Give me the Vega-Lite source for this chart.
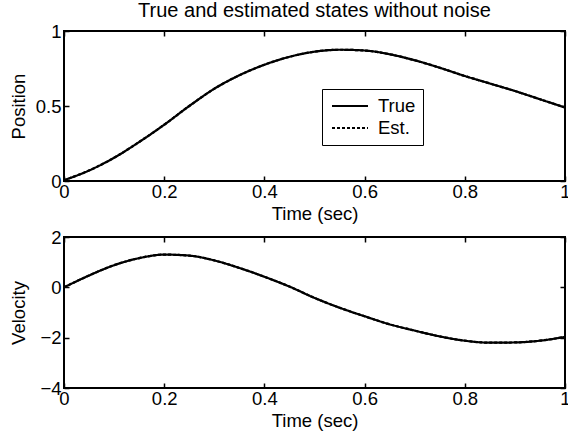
{
  "$schema": "https://vega.github.io/schema/vega-lite/v6.json",
  "background": "white",
  "padding": {"left": 8, "top": 0, "right": 0, "bottom": 0},
  "spacing": 3,
  "datasets": {
    "d": [
      {"t": 0.0, "p": 0.005, "v": 0.0, "s": "True"},
      {"t": 0.05, "p": 0.07, "v": 0.47, "s": "True"},
      {"t": 0.1, "p": 0.155, "v": 0.88, "s": "True"},
      {"t": 0.15, "p": 0.26, "v": 1.16, "s": "True"},
      {"t": 0.2, "p": 0.375, "v": 1.3, "s": "True"},
      {"t": 0.25, "p": 0.5, "v": 1.26, "s": "True"},
      {"t": 0.3, "p": 0.615, "v": 1.07, "s": "True"},
      {"t": 0.35, "p": 0.705, "v": 0.77, "s": "True"},
      {"t": 0.4, "p": 0.775, "v": 0.42, "s": "True"},
      {"t": 0.45, "p": 0.828, "v": 0.03, "s": "True"},
      {"t": 0.5, "p": 0.862, "v": -0.42, "s": "True"},
      {"t": 0.55, "p": 0.875, "v": -0.81, "s": "True"},
      {"t": 0.6, "p": 0.87, "v": -1.15, "s": "True"},
      {"t": 0.65, "p": 0.845, "v": -1.47, "s": "True"},
      {"t": 0.7, "p": 0.805, "v": -1.72, "s": "True"},
      {"t": 0.75, "p": 0.755, "v": -1.95, "s": "True"},
      {"t": 0.8, "p": 0.7, "v": -2.12, "s": "True"},
      {"t": 0.85, "p": 0.65, "v": -2.2, "s": "True"},
      {"t": 0.9, "p": 0.6, "v": -2.19, "s": "True"},
      {"t": 0.95, "p": 0.545, "v": -2.12, "s": "True"},
      {"t": 1.0, "p": 0.49, "v": -1.97, "s": "True"},
      {"t": 0.0, "p": 0.005, "v": 0.0, "s": "Est."},
      {"t": 0.05, "p": 0.07, "v": 0.47, "s": "Est."},
      {"t": 0.1, "p": 0.155, "v": 0.88, "s": "Est."},
      {"t": 0.15, "p": 0.26, "v": 1.16, "s": "Est."},
      {"t": 0.2, "p": 0.375, "v": 1.3, "s": "Est."},
      {"t": 0.25, "p": 0.5, "v": 1.26, "s": "Est."},
      {"t": 0.3, "p": 0.615, "v": 1.07, "s": "Est."},
      {"t": 0.35, "p": 0.705, "v": 0.77, "s": "Est."},
      {"t": 0.4, "p": 0.775, "v": 0.42, "s": "Est."},
      {"t": 0.45, "p": 0.828, "v": 0.03, "s": "Est."},
      {"t": 0.5, "p": 0.862, "v": -0.42, "s": "Est."},
      {"t": 0.55, "p": 0.875, "v": -0.81, "s": "Est."},
      {"t": 0.6, "p": 0.87, "v": -1.15, "s": "Est."},
      {"t": 0.65, "p": 0.845, "v": -1.47, "s": "Est."},
      {"t": 0.7, "p": 0.805, "v": -1.72, "s": "Est."},
      {"t": 0.75, "p": 0.755, "v": -1.95, "s": "Est."},
      {"t": 0.8, "p": 0.7, "v": -2.12, "s": "Est."},
      {"t": 0.85, "p": 0.65, "v": -2.2, "s": "Est."},
      {"t": 0.9, "p": 0.6, "v": -2.19, "s": "Est."},
      {"t": 0.95, "p": 0.545, "v": -2.12, "s": "Est."},
      {"t": 1.0, "p": 0.49, "v": -1.97, "s": "Est."}
    ]
  },
  "data": {"name": "d"},
  "config": {
    "font": "Liberation Sans",
    "view": {"stroke": "black", "strokeWidth": 2},
    "axis": {
      "labelFont": "Liberation Sans", "labelFontSize": 18.5, "labelColor": "black",
      "titleFont": "Liberation Sans", "titleFontSize": 18.5, "titleFontWeight": "normal", "titleColor": "black",
      "grid": false, "domain": false, "tickColor": "black", "tickWidth": 1.5, "tickSize": -5,
      "labelFlush": false, "labelOverlap": false
    }
  },
  "resolve": {"scale": {"strokeDash": "independent"}},
  "vconcat": [
    {
      "width": 501, "height": 150,
      "title": {"text": "True and estimated states without noise", "frame": "group", "fontSize": 20, "fontWeight": "normal", "font": "Liberation Sans", "color": "black", "offset": 1},
      "layer": [
        {
          "mark": {"type": "line", "color": "black", "strokeWidth": 2.2, "interpolate": "monotone"},
          "encoding": {
            "x": {"field": "t", "type": "quantitative", "scale": {"domain": [0, 1], "nice": false},
                  "axis": {"title": "Time (sec)", "values": [0, 0.2, 0.4, 0.6, 0.8, 1], "format": "~g", "labelPadding": 6, "titlePadding": 4}},
            "y": {"field": "p", "type": "quantitative", "scale": {"domain": [0, 1], "nice": false},
                  "axis": {"title": "Position", "values": [0, 0.5, 1], "format": "~g", "labelPadding": 8, "titlePadding": 7}},
            "strokeDash": {"field": "s", "type": "nominal", "sort": ["True", "Est."],
                  "scale": {"domain": ["True", "Est."], "range": [[1, 0], [3, 2]]},
                  "legend": {"title": null, "orient": "none", "legendX": 258, "legendY": 58,
                             "symbolType": "M-2,0H2", "symbolSize": 324, "symbolStrokeWidth": 1.8, "symbolStrokeColor": "black", "symbolFillColor": "transparent",
                             "symbolOffset": 11, "labelOffset": 18,
                             "labelFontSize": 18.5, "labelFont": "Liberation Sans", "labelColor": "black",
                             "strokeColor": "black", "fillColor": "white", "padding": 7, "rowPadding": 2, "labelLimit": 300}}
          }
        },
        {
          "mark": {"type": "line", "opacity": 0},
          "encoding": {
            "x": {"field": "t", "type": "quantitative", "axis": {"orient": "top", "labels": false, "title": null, "values": [0, 0.2, 0.4, 0.6, 0.8, 1]}},
            "y": {"field": "p", "type": "quantitative", "axis": {"orient": "right", "labels": false, "title": null, "values": [0, 0.5, 1]}}
          }
        }
      ],
      "resolve": {"axis": {"x": "independent", "y": "independent"}}
    },
    {
      "width": 501, "height": 151,
      "layer": [
        {
          "mark": {"type": "line", "color": "black", "strokeWidth": 2.2, "interpolate": "monotone"},
          "encoding": {
            "x": {"field": "t", "type": "quantitative", "scale": {"domain": [0, 1], "nice": false},
                  "axis": {"title": "Time (sec)", "values": [0, 0.2, 0.4, 0.6, 0.8, 1], "format": "~g", "labelPadding": 6, "titlePadding": 4}},
            "y": {"field": "v", "type": "quantitative", "scale": {"domain": [-4, 2], "nice": false},
                  "axis": {"title": "Velocity", "values": [-4, -2, 0, 2], "format": "~g", "labelPadding": 8, "titlePadding": 11}},
            "strokeDash": {"field": "s", "type": "nominal",
                  "scale": {"domain": ["True", "Est."], "range": [[1, 0], [3, 2]]}, "legend": null}
          }
        },
        {
          "mark": {"type": "line", "opacity": 0},
          "encoding": {
            "x": {"field": "t", "type": "quantitative", "axis": {"orient": "top", "labels": false, "title": null, "values": [0, 0.2, 0.4, 0.6, 0.8, 1]}},
            "y": {"field": "v", "type": "quantitative", "axis": {"orient": "right", "labels": false, "title": null, "values": [-4, -2, 0, 2]}}
          }
        }
      ],
      "resolve": {"axis": {"x": "independent", "y": "independent"}}
    }
  ]
}
